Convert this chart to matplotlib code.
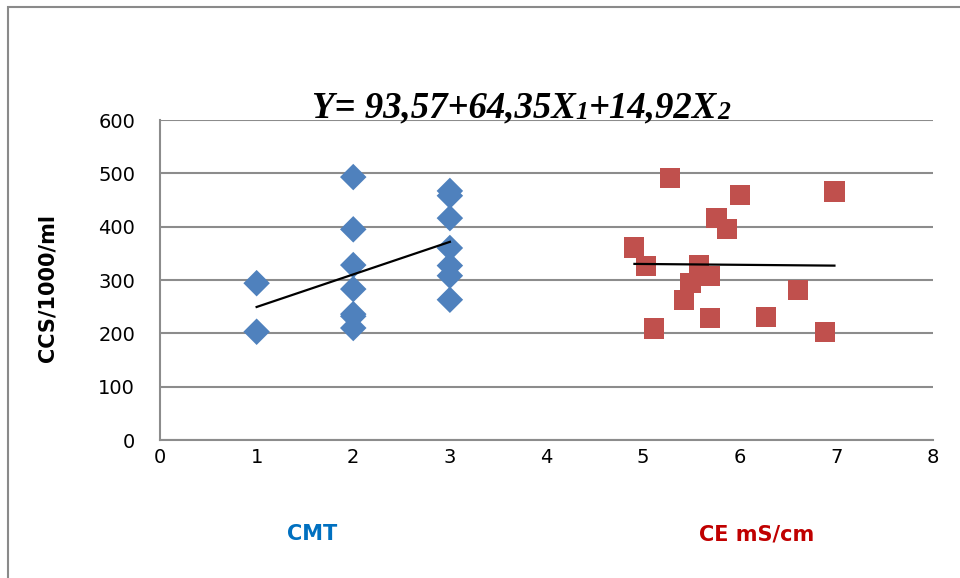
import matplotlib
matplotlib.use("Agg")
import matplotlib.pyplot as plt
from matplotlib.patches import Rectangle
import numpy as np

# CMT (X1) vs CCS
cmt_x = [1, 1, 2, 2, 2, 2, 2, 2, 2, 3, 3, 3, 3, 3, 3, 3]
cmt_y = [294, 203, 493, 395, 328, 283, 236, 232, 210, 467, 458, 416, 360, 327, 308, 263]

# CE mS/cm (X2) vs CCS
ce_x = [5.28, 6.00, 6.98, 5.76, 5.87, 4.91, 5.03, 5.58, 5.69, 5.49, 5.42, 6.60, 6.27, 5.69, 5.11, 6.88]
ce_y = [492, 459, 466, 417, 395, 361, 326, 328, 308, 294, 262, 282, 231, 228, 209, 203]

x_ticks = list(range(0, 9))
y_ticks = list(range(0, 601, 100))

blue = "#4F81BD"
red = "#C0504D"
grid_gray = "#8C8C8C"

W, H = 960, 578
fig = plt.figure(figsize=(W / 100, H / 100), dpi=100)
ax = fig.add_axes([160 / W, 1 - 440 / H, (933 - 160) / W, 320 / H])

ax.scatter(cmt_x, cmt_y, marker="D", s=13.5 ** 2, color=blue, edgecolors="none", zorder=3)
ax.scatter(ce_x, ce_y, marker="s", s=14.5 ** 2, color=red, edgecolors="none", zorder=3)

# linear trendlines for each series
for xs, ys in [(cmt_x, cmt_y), (ce_x, ce_y)]:
    xs = np.array(xs)
    k, b = np.polyfit(xs, ys, 1)
    xl = np.array([xs.min(), xs.max()])
    ax.plot(xl, k * xl + b, color="black", lw=1.6, zorder=4)

ax.set_xlim(0, 8)
ax.set_ylim(0, 600)
ax.set_xticks(x_ticks)
ax.set_yticks(y_ticks)
ax.tick_params(length=0, labelsize=14, colors="black")
ax.tick_params(axis="x", pad=6)
ax.tick_params(axis="y", pad=18)
ax.yaxis.grid(True, color=grid_gray, lw=1.5)
ax.set_axisbelow(True)
for side in ["top", "right"]:
    ax.spines[side].set_visible(False)
for side in ["left", "bottom"]:
    ax.spines[side].set_color(grid_gray)
    ax.spines[side].set_linewidth(1.5)

ax.set_ylabel("CCS/1000/ml", fontsize=15, fontweight="bold")
ax.yaxis.set_label_coords(57 / W, 1 - 288 / H, transform=fig.transFigure)

fig.text(312 / W, 1 - 534 / H, "CMT", color="#0070C0", fontsize=15, fontweight="bold",
         ha="center", va="center")
fig.text(757 / W, 1 - 534 / H, "CE mS/cm", color="#C00000", fontsize=15, fontweight="bold",
         ha="center", va="center")

# equation drawn piece by piece (small digits after X)
pieces = [("Y= 93,57+64,35X", 26.5, 0), ("1", 18.5, -2), ("+14,92X", 26.5, 0), ("2", 18.5, -2)]
renderer = fig.canvas.get_renderer()
x0 = 312
for txt, size, dy in pieces:
    t = fig.text(x0 / W, (H - 117 + dy) / H, txt, fontsize=size, fontweight="bold",
                 fontstyle="italic", family="Liberation Serif", ha="left", va="baseline")
    bb = t.get_window_extent(renderer)
    x0 += bb.width

# outer chart frame, cut off on right and bottom
fig.patches.append(Rectangle((8 / W, -0.1), 1.2, 1 - 7 / H + 0.1, transform=fig.transFigure,
                             fill=False, edgecolor="#8A8A8A", lw=1.5))

fig.savefig("out.png", dpi=100)
